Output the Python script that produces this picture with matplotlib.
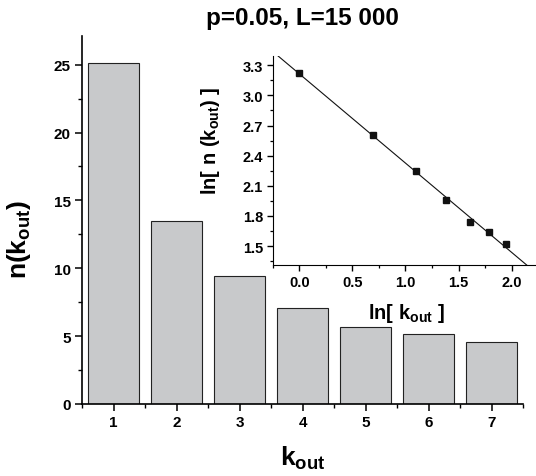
import numpy as np
import matplotlib
matplotlib.use('agg')
import matplotlib.pyplot as plt
from matplotlib.ticker import MultipleLocator, FormatStrFormatter

plt.rcParams['font.family'] = ['Liberation Sans', 'DejaVu Sans']
plt.rcParams['font.weight'] = 'bold'
plt.rcParams['axes.labelweight'] = 'bold'
plt.rcParams['mathtext.fontset'] = 'custom'
plt.rcParams['mathtext.rm'] = 'Liberation Sans:bold'
plt.rcParams['mathtext.it'] = 'Liberation Sans:bold'
plt.rcParams['mathtext.bf'] = 'Liberation Sans:bold'

# data
k_out = [1, 2, 3, 4, 5, 6, 7]
n_k = [25.1, 13.5, 9.45, 7.07, 5.7, 5.16, 4.57]

BAR_GREY = '#c8c9cb'
EDGE = '#222222'

fig = plt.figure(figsize=(5.36, 4.77), dpi=100)
ax = fig.add_axes([0.153, 0.151, 0.823, 0.771])

ax.bar(k_out, n_k, width=0.8, color=BAR_GREY, edgecolor=EDGE, linewidth=0.8)
ax.set_xlim(0.5, 7.5)
ax.set_ylim(0, 27.1)
ax.xaxis.set_major_locator(MultipleLocator(1))
ax.xaxis.set_minor_locator(MultipleLocator(0.5))
ax.yaxis.set_major_locator(MultipleLocator(5))
ax.yaxis.set_minor_locator(MultipleLocator(2.5))
for s in ('top', 'right'):
    ax.spines[s].set_visible(False)
for s in ('left', 'bottom'):
    ax.spines[s].set_linewidth(1.2)
ax.tick_params(which='major', length=5, width=1.1, labelsize=11, pad=3)
ax.tick_params(which='minor', length=3, width=1.0)
ax.set_xlabel(r'k$_{\mathrm{out}}$', fontsize=19, fontweight='bold')
ax.set_ylabel(r'n(k$_{\mathrm{out}}$)', fontsize=19, fontweight='bold')
ax.xaxis.set_label_coords(0.5, -0.108)
ax.yaxis.set_label_coords(-0.112, 0.45)
ax.set_title('p=0.05, L=15 000', fontsize=17.5, fontweight='bold', pad=9)

# inset: log-log view with linear fit
lx = np.log(k_out)
ly = np.log(n_k)
slope, icpt = np.polyfit(lx, ly, 1)

ins = fig.add_axes([0.509, 0.442, 0.489, 0.438])
xs = np.array([-0.25, 2.3])
ins.plot(xs, icpt + slope * xs, color='#111111', linewidth=0.8)
ins.plot(lx, ly, 's', color='#111111', markersize=4)
ins.set_xlim(-0.25, 2.22)
ins.set_ylim(1.31, 3.39)
ins.xaxis.set_major_locator(MultipleLocator(0.5))
ins.xaxis.set_minor_locator(MultipleLocator(0.25))
ins.yaxis.set_major_locator(MultipleLocator(0.3))
ins.yaxis.set_minor_locator(MultipleLocator(0.15))
ins.yaxis.set_major_formatter(FormatStrFormatter('%.1f'))
ins.xaxis.set_major_formatter(FormatStrFormatter('%.1f'))
for s in ('top', 'right'):
    ins.spines[s].set_visible(False)
ins.tick_params(which='major', length=4, width=1.0, labelsize=10.5, pad=3)
ins.tick_params(which='minor', length=2.5, width=0.9)
ins.set_xlabel(r'ln[ k$_{\mathrm{out}}$ ]', fontsize=14.5, fontweight='bold')
ins.set_ylabel(r'ln[ n (k$_{\mathrm{out}}$) ]', fontsize=14.5, fontweight='bold')
ins.xaxis.set_label_coords(0.51, -0.17)
ins.yaxis.set_label_coords(-0.195, 0.6)

fig.savefig('out.png', dpi=100, facecolor='white')
